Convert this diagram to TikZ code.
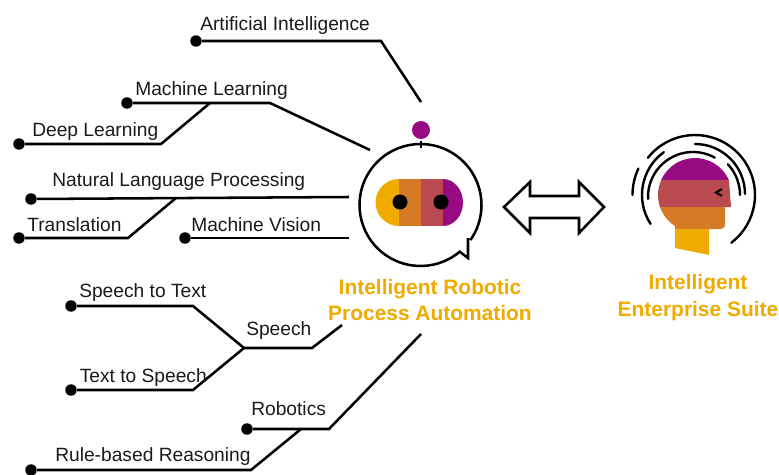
\documentclass[tikz,border=0pt]{standalone}
\usepackage{fontspec}
\setmainfont{Liberation Sans}
\usepackage{tikz}
\definecolor{sapyellow}{HTML}{F0AB00}
\definecolor{saporange}{HTML}{D67A28}
\definecolor{sapred}{HTML}{B94B50}
\definecolor{sappurple}{HTML}{970A82}
\definecolor{labelgrey}{HTML}{1A1A1A}
\begin{document}
\begin{tikzpicture}[x=0.75pt,y=0.75pt]
\tikzstyle{every node}+=[inner sep=0pt]
\tikzstyle{wire}=[black,line width=1.9pt]
\tikzstyle{halo}=[black,line width=1.8pt,line cap=round]
\tikzstyle{pin}=[circle,fill=black,minimum size=8.6pt]
\tikzstyle{topic}=[anchor=base west,text=labelgrey,font=\fontsize{14.4}{17}\selectfont]
\tikzstyle{product}=[anchor=base,text=sapyellow,font=\fontsize{15.7}{18}\selectfont\bfseries]
\useasboundingbox (0,0) rectangle (779,-475);
\node [pin] (ai) at (196,-41) {};
\node [pin] (ml) at (127,-103) {};
\node [pin] (dl) at (19,-144) {};
\node [pin] (nlp) at (31,-199) {};
\node [pin] (tr) at (19,-238) {};
\node [pin] (mv) at (185,-238) {};
\node [pin] (stt) at (71,-306) {};
\node [pin] (tts) at (71,-390) {};
\node [pin] (rob) at (247,-429) {};
\node [pin] (rule) at (31,-470) {};
\coordinate (aibend) at (381,-41);
\coordinate (aiend) at (421,-102);
\coordinate (mlbend) at (270,-103);
\coordinate (mlend) at (370,-150);
\coordinate (dlbend) at (161,-144);
\coordinate (dlend) at (210,-103);
\coordinate (nlpend) at (349,-197);
\coordinate (trbend) at (128,-238);
\coordinate (trend) at (176,-198);
\coordinate (mvend) at (349,-238);
\coordinate (sttbend) at (193,-306);
\coordinate (ttsbend) at (193,-390);
\coordinate (spjoin) at (244,-348);
\coordinate (spbend) at (312,-348);
\coordinate (spend) at (342,-325);
\coordinate (robbend) at (329,-429);
\coordinate (robend) at (421,-334);
\coordinate (rulebend) at (251,-470);
\coordinate (ruleend) at (301,-429);
\draw [wire] (ai) -- (aibend) -- (aiend);
\draw [wire] (ml) -- (mlbend) -- (mlend);
\draw [wire] (dl) -- (dlbend) -- (dlend);
\draw [wire] (nlp) -- (nlpend);
\draw [wire] (tr) -- (trbend) -- (trend);
\draw [wire] (mv) -- (mvend);
\draw [wire] (stt) -- (sttbend) -- (spjoin);
\draw [wire] (tts) -- (ttsbend) -- (spjoin);
\draw [wire] (spjoin) -- (spbend) -- (spend);
\draw [wire] (rob) -- (robbend) -- (robend);
\draw [wire] (rule) -- (rulebend) -- (ruleend);
\node [topic] (ailabel) at (200,-30) {Artificial Intelligence};
\node [topic] (mllabel) at (135,-95) {Machine Learning};
\node [topic] (dllabel) at (32,-136) {Deep Learning};
\node [topic] (nlplabel) at (52,-186) {Natural Language Processing};
\node [topic] (trlabel) at (27,-231) {Translation};
\node [topic] (mvlabel) at (191,-231) {Machine Vision};
\node [topic] (sttlabel) at (79,-297) {Speech to Text};
\node [topic] (ttslabel) at (79.5,-382) {Text to Speech};
\node [topic] (splabel) at (246,-335) {Speech};
\node [topic] (roblabel) at (251,-415) {Robotics};
\node [topic] (rulelabel) at (55,-461) {Rule-based Reasoning};
\node [product] (rpaone) at (430,-294) {Intelligent Robotic};
\node [product] (rpatwo) at (430,-320) {Process Automation};
\node [product] (suiteone) at (698,-289) {Intelligent};
\node [product] (suitetwo) at (698,-316) {Enterprise Suite};
\coordinate (bubble) at (420.5,-205);
\fill [sappurple] (421,-130) circle (9);
\draw [wire] (421,-141) -- (421,-148);
\draw [wire,line join=miter] (bubble) ++(-35:61) arc (-35:310:61) -- (468,-258) -- (468,-238);
\fill [sapyellow] (399,-179) -- (399,-226) arc (270:90:23.5) -- cycle;
\fill [saporange] (399,-179) rectangle (421,-226);
\fill [sapred] (421,-179) rectangle (443,-226);
\fill [sappurple] (443,-179) -- (443,-226) arc (-90:90:20 and 23.5) -- cycle;
\fill [black] (400,-202) circle (7.5);
\fill [black] (441,-202) circle (7.5);
\draw [wire,fill=white,line join=miter] (504,-207) -- (530,-182) -- (530,-196) -- (579,-196) -- (579,-182) -- (604,-207) -- (579,-233) -- (579,-218) -- (530,-218) -- (530,-233) -- cycle;
\fill [sappurple] (661.2,-180) arc (156:24:37) -- cycle;
\fill [sapred] (661.2,-180) arc (156:199:37) -- (731,-207) -- (729,-180) -- cycle;
\fill [saporange] (660,-207) arc (199:237:37) -- (675,-229) -- (721,-229) arc (270:360:4) -- (725,-207) -- cycle;
\fill [sapyellow] (675,-229) -- (709,-229) -- (709,-255) -- (675,-248) -- cycle;
\draw [black,line width=1.5pt] (722,-189) -- (716,-192.5) -- (722,-196);
\coordinate (mind) at (695,-195);
\coordinate (innermind) at (693,-197);
\draw [halo] (mind) ++(141.6:60) arc (141.6:-52.7:60);
\draw [halo] (mind) ++(90:51) arc (90:0:50);
\draw [halo] (mind) ++(126:53) arc (126:213:53);
\draw [halo] (mind) ++(155:62.5) arc (155:180:62.5);
\draw [halo] (innermind) ++(182.5:45) arc (182.5:61:45);
\draw [halo] (mind) ++(43:45) arc (43:0:45);
\end{tikzpicture}
\end{document}
